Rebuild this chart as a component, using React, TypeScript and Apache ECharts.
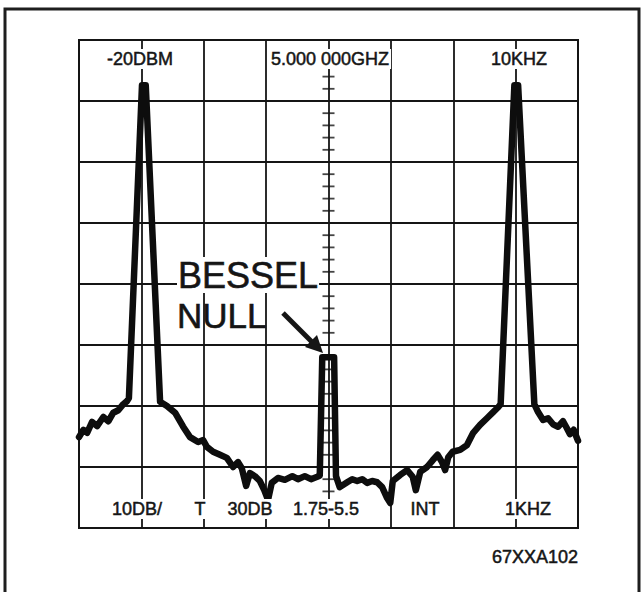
import React, { useEffect, useRef } from "react";
import * as echarts from "echarts";

// Frequency offset from 5.000 000 GHz, in kHz (10 kHz/div)
const freqKHz = [
  -40, -39.3, -38.7, -37.9, -37.1, -36.1, -35.3, -34.5, -33.7, -32.9, -32.3, -32.0,
  -29.9, -29.3,
  -27.0, -25.9, -24.6, -23.3, -22.2, -20.9, -20.1, -19.5, -18.5, -17.4, -16.3, -15.3,
  -14.5, -13.9, -13.2, -12.6, -11.8, -11.0, -10.3, -9.7, -9.1, -8.1, -7.0, -5.8, -4.9,
  -3.8, -2.8, -1.8, -1.4,
  -1.0, 0.9,
  1.2, 1.8, 3.0, 3.8, 4.6, 5.4, 6.2, 7.0, 7.8, 8.6, 9.4, 9.9, 10.3, 11.5, 12.6, 13.5,
  14.0, 14.7, 15.8, 16.7, 17.5, 18.2, 18.7, 19.2, 19.9, 21.1, 22.2, 23.2, 24.3, 25.4,
  26.4, 27.2, 27.6,
  29.8, 30.4,
  33.0, 33.6, 34.4, 35.2, 36.0, 36.8, 37.6, 38.2, 38.7, 39.3, 40,
];

// Level in dBm (reference -20 dBm at top, 10 dB/div)
const levelDBm = [
  -85.1, -83.9, -84.4, -82.6, -83.3, -81.8, -82.5, -81.1, -80.7, -79.7, -79.2, -78.7,
  -27.4, -27.4,
  -79.3, -80.0, -81.1, -83.4, -85.1, -85.9, -85.6, -86.7, -87.5, -88.0, -88.5, -90.0,
  -89.2, -90.2, -93.1, -91.0, -91.5, -92.3, -93.8, -95.4, -92.6, -91.8, -92.1, -91.5, -92.0,
  -91.5, -92.0, -91.6, -91.4,
  -72.0, -72.0,
  -91.5, -93.3, -92.5, -92.0, -92.3, -92.0, -92.6, -92.3, -92.5, -93.3, -95.1, -95.9, -92.3, -91.3, -90.5, -91.6,
  -93.8, -90.8, -90.0, -88.9, -88.0, -89.2, -90.5, -88.4, -87.5, -87.2, -86.4, -84.4, -83.1, -82.0,
  -81.0, -80.2, -79.7,
  -27.4, -27.4,
  -79.7, -81.0, -82.3, -82.0, -83.0, -83.4, -82.5, -83.6, -84.6, -83.9, -85.7,
];

const topLabels = ["-20DBM", "5.000 000GHZ", "10KHZ"];
const bottomLabels = ["10DB/", "T", "30DB", "1.75-5.5", "INT", "1KHZ"];
const figureId = "67XXA102";
const annotationLines = ["BESSEL", "NULL"];

// graticule minor ticks on the centre line (5 per division)
const centreTicks: number[] = [];
for (let v = -100; v <= -20; v += 2) centreTicks.push(v);

const INK = "#151515";
const FONT = "'Liberation Sans', Arial, Helvetica, sans-serif";

export default function App() {
  const ref = useRef<HTMLDivElement>(null);
  useEffect(() => {
    document.body.style.margin = "0";
    if (!ref.current) return;
    const chart = echarts.init(ref.current, undefined, { renderer: "svg" });

    const trace = freqKHz.map((f, i) => [f, levelDBm[i]]);
    const ticks = centreTicks.map((v) => [0, v]);

    const txt = (
      text: string,
      x: number,
      y: number,
      size: number,
      align: string = "center",
      bg: boolean = true
    ) => ({
      type: "text",
      x,
      y,
      z: 100,
      style: {
        text,
        fontFamily: FONT,
        fontSize: size,
        fill: INK,
        stroke: INK,
        lineWidth: 0.5,
        textAlign: align,
        textVerticalAlign: "middle",
        backgroundColor: bg ? "#ffffff" : undefined,
        padding: bg ? [1, 2, 1, 2] : 0,
      },
    });

    const topX = [140, 330, 519];
    const botX = [137, 200, 250, 326, 425, 528];

    chart.setOption({
      animation: false,
      backgroundColor: "#ffffff",
      grid: {
        left: 79,
        top: 40,
        width: 499,
        height: 488,
        show: true,
        borderColor: INK,
        borderWidth: 2,
        backgroundColor: "transparent",
      },
      xAxis: {
        type: "value",
        min: -40,
        max: 40,
        interval: 10,
        axisLine: { show: false },
        axisTick: { show: false },
        axisLabel: { show: false },
        splitLine: { show: true, lineStyle: { color: INK, width: 1.8 } },
      },
      yAxis: {
        type: "value",
        min: -100,
        max: -20,
        interval: 10,
        axisLine: { show: false },
        axisTick: { show: false },
        axisLabel: { show: false },
        splitLine: { show: true, lineStyle: { color: INK, width: 1.8 } },
      },
      series: [
        {
          type: "scatter",
          data: ticks,
          symbol: "rect",
          symbolSize: [12, 1.8],
          itemStyle: { color: INK },
          silent: true,
          z: 1,
        },
        {
          type: "line",
          data: trace,
          showSymbol: false,
          symbol: "none",
          lineStyle: { color: "#0d0d0d", width: 6.5, join: "round", cap: "round" },
          z: 3,
        },
      ],
      graphic: [
        {
          type: "rect",
          z: 100,
          shape: { x: 5, y: 9, width: 634, height: 600 },
          style: { fill: "none", stroke: "#1e1e1e", lineWidth: 3 },
        },
        ...topLabels.map((t, i) => txt(t, topX[i], 59, 18)),
        ...bottomLabels.map((t, i) => txt(t, botX[i], 509, 18)),
        txt(figureId, 578, 557, 18, "right", false),
        {
          type: "text",
          x: 177,
          y: 275,
          z: 101,
          style: {
            text: annotationLines[0],
            fontFamily: FONT,
            fontSize: 36,
            fill: INK,
            stroke: INK,
            lineWidth: 0.6,
            textAlign: "left",
            textVerticalAlign: "middle",
            backgroundColor: "#ffffff",
            padding: [0, 1, 0, 1],
          },
        },
        {
          type: "text",
          x: 177,
          y: 315,
          z: 101,
          style: {
            text: annotationLines[1],
            fontFamily: FONT,
            fontSize: 35,
            fill: INK,
            stroke: INK,
            lineWidth: 0.6,
            textAlign: "left",
            textVerticalAlign: "middle",
          },
        },
        {
          type: "line",
          z: 101,
          shape: { x1: 283, y1: 313, x2: 312, y2: 342 },
          style: { stroke: INK, lineWidth: 5 },
        },
        {
          type: "polygon",
          z: 101,
          shape: { points: [[323, 353], [317, 335], [305, 347]] },
          style: { fill: INK },
        },
      ],
    });
    return () => chart.dispose();
  }, []);
  return <div ref={ref} style={{ width: 642, height: 592 }} />;
}
